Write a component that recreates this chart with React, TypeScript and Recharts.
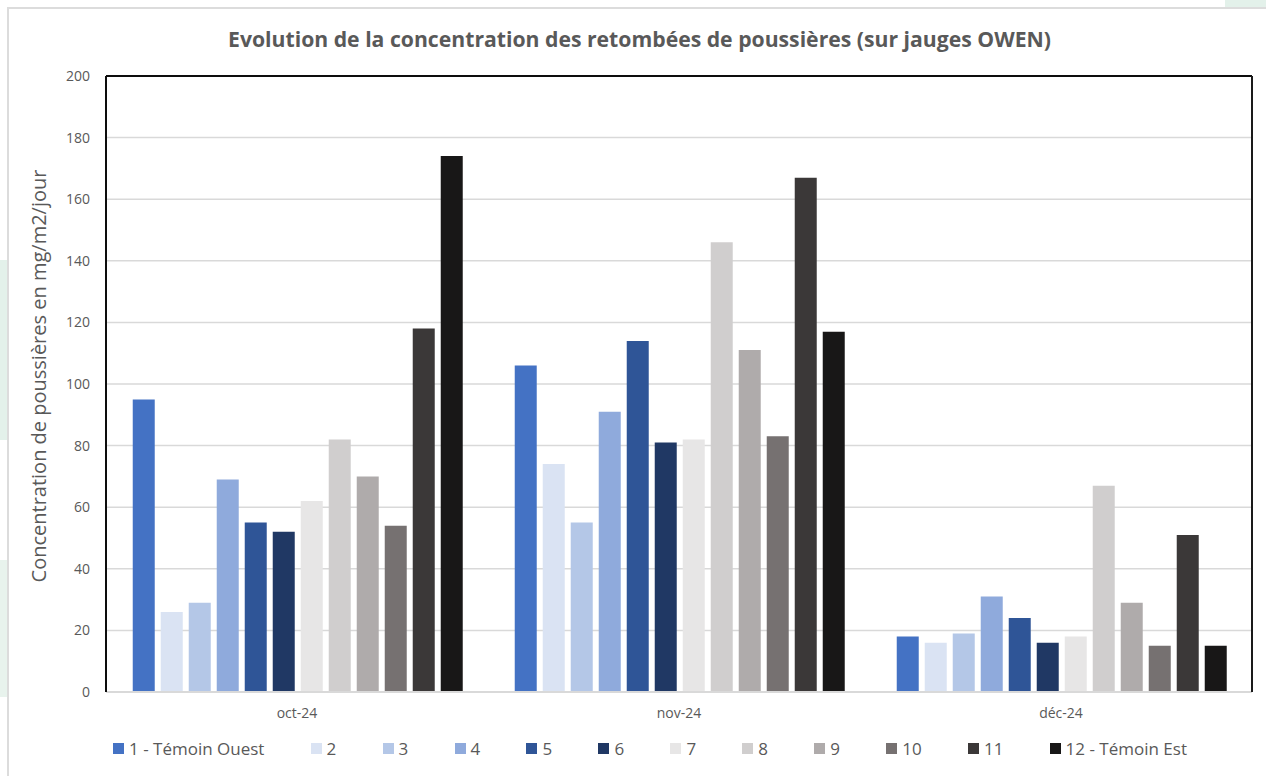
import React from 'react';
import {
  BarChart,
  Bar,
  XAxis,
  YAxis,
  CartesianGrid,
  Legend,
  ReferenceLine,
} from 'recharts';

const categories = ['oct-24', 'nov-24', 'déc-24'];

const seriesNames = [
  '1 - Témoin Ouest', '2', '3', '4', '5', '6', '7', '8', '9', '10', '11', '12 - Témoin Est',
];

const seriesColors = [
  '#4472C4', '#DAE3F3', '#B4C7E7', '#8FAADC', '#2F5597', '#203864',
  '#E7E6E6', '#D0CECE', '#AFABAB', '#767171', '#3B3838', '#181717',
];

const s1 = [95, 106, 18];
const s2 = [26, 74, 16];
const s3 = [29, 55, 19];
const s4 = [69, 91, 31];
const s5 = [55, 114, 24];
const s6 = [52, 81, 16];
const s7 = [62, 82, 18];
const s8 = [82, 146, 67];
const s9 = [70, 111, 29];
const s10 = [54, 83, 15];
const s11 = [118, 167, 51];
const s12 = [174, 117, 15];

const seriesValues = [s1, s2, s3, s4, s5, s6, s7, s8, s9, s10, s11, s12];

const yTicks = [0, 20, 40, 60, 80, 100, 120, 140, 160, 180, 200];

const title = 'Evolution de la concentration des retombées de poussières (sur jauges OWEN)';
const yLabel = 'Concentration de poussières en mg/m2/jour';

const data = categories.map((c, i) => {
  const row: Record<string, string | number> = { name: c };
  seriesNames.forEach((s, j) => {
    row['s' + j] = seriesValues[j][i];
  });
  return row;
});

const FONT = '"Open Sans", "Noto Sans", sans-serif';
const TEXT = '#595959';

const LegendContent = () => (
  <div
    style={{
      display: 'flex',
      justifyContent: 'space-between',
      alignItems: 'center',
      height: 26,
      fontFamily: FONT,
      fontSize: 17,
      color: TEXT,
    }}
  >
    {seriesNames.map((n, i) => (
      <div key={n} style={{ display: 'flex', alignItems: 'center', whiteSpace: 'nowrap' }}>
        <span
          style={{
            display: 'inline-block',
            width: 11,
            height: 11,
            background: seriesColors[i],
            marginRight: 5,
          }}
        />
        <span>{n}</span>
      </div>
    ))}
  </div>
);

export default function App() {
  return (
    <div
      style={{
        position: 'absolute',
        left: 0,
        top: 0,
        width: 1266,
        height: 776,
        overflow: 'hidden',
        background: '#ffffff',
      }}
    >
      {/* faint decorative background outside the chart frame */}
      <div style={{ position: 'absolute', left: 0, top: 260, width: 7, height: 180, background: '#e3f1ea' }} />
      <div style={{ position: 'absolute', left: 0, top: 560, width: 7, height: 137, background: '#e8f3ed' }} />
      <div style={{ position: 'absolute', left: 1225, top: 0, width: 41, height: 7, background: '#e3f1ea' }} />
      <div
        style={{
          position: 'absolute',
          left: 7,
          top: 7,
          width: 1300,
          height: 800,
          border: '2px solid #dcdcdc',
          background: '#ffffff',
        }}
      />
      <div
        style={{
          position: 'absolute',
          left: 0,
          top: 24,
          width: 1279,
          textAlign: 'center',
          fontFamily: FONT,
          fontWeight: 700,
          fontSize: 21.2,
          color: TEXT,
        }}
      >
        {title}
      </div>
      <div style={{ position: 'absolute', left: 0, top: 0 }}>
        <BarChart
          width={1266}
          height={776}
          data={data}
          margin={{ top: 76, right: 13, bottom: 15, left: 30 }}
          barCategoryGap="7%"
          barGap={6}
        >
          <CartesianGrid vertical={false} stroke="#d9d9d9" strokeWidth={1.5} yAxisId="left" />
          <XAxis
            dataKey="name"
            height={43}
            axisLine={{ stroke: '#d9d9d9', strokeWidth: 2 }}
            tickLine={false}
            tickSize={0}
            tickMargin={16}
            tick={{ fontFamily: FONT, fontSize: 14, fill: TEXT }}
          />
          <YAxis
            yAxisId="left"
            width={76}
            domain={[0, 200]}
            ticks={yTicks}
            interval={0}
            axisLine={{ stroke: '#0d0d0d', strokeWidth: 2 }}
            tickLine={false}
            tickSize={0}
            tickMargin={16}
            tick={{ fontFamily: FONT, fontSize: 14, fill: TEXT }}
            label={{
              value: yLabel,
              angle: -90,
              position: 'insideLeft',
              offset: 9,
              dy: -8,
              style: { textAnchor: 'middle', fontFamily: FONT, fontSize: 20, fill: TEXT },
            }}
          />
          <YAxis
            yAxisId="right"
            orientation="right"
            width={1}
            domain={[0, 200]}
            tick={false}
            tickLine={false}
            axisLine={{ stroke: '#1a1a1a', strokeWidth: 2 }}
          />
          <ReferenceLine yAxisId="left" y={200} stroke="#0d0d0d" strokeWidth={2} />
          <Legend
            verticalAlign="bottom"
            content={<LegendContent />}
            wrapperStyle={{ left: 113, width: 1074, height: 26 }}
          />
          {seriesNames.map((n, j) => (
            <Bar
              key={n}
              yAxisId="left"
              dataKey={'s' + j}
              name={n}
              fill={seriesColors[j]}
              isAnimationActive={false}
            />
          ))}
        </BarChart>
      </div>
    </div>
  );
}
